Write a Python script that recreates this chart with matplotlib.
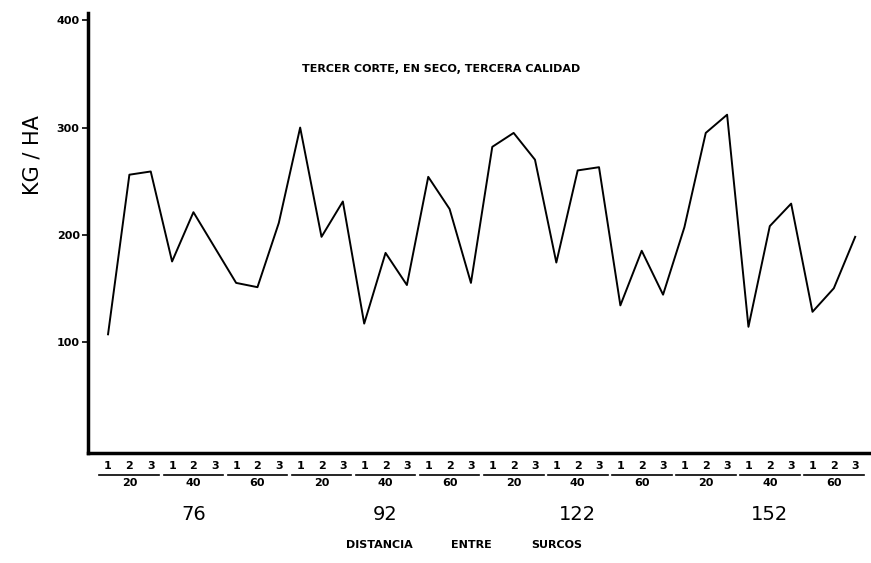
import matplotlib.pyplot as plt
from matplotlib.transforms import blended_transform_factory

# kg/ha for each row distance / density / repetition
distancias = ['76', '92', '122', '152']
densidades = ['20', '40', '60']
repeticiones = ['1', '2', '3']
kg_ha = [107, 256, 259, 175, 221, 188, 155, 151, 211,
         300, 198, 231, 117, 183, 153, 254, 224, 155,
         282, 295, 270, 174, 260, 263, 134, 185, 144,
         207, 295, 312, 114, 208, 229, 128, 150, 198]
y_ticks = [100, 200, 300, 400]

fig = plt.figure(figsize=(8.71, 5.63), dpi=100)
ax = fig.add_axes([0.101, 0.195, 0.898, 0.782])

x = list(range(len(kg_ha)))
ax.plot(x, kg_ha, color='black', lw=1.4)

ax.set_xlim(-0.94, 35.7)
ax.set_ylim(-4, 407)

for s in ['top', 'right']:
    ax.spines[s].set_visible(False)
ax.spines['left'].set_linewidth(2.5)
ax.spines['bottom'].set_linewidth(2.5)

ax.set_xticks([])
ax.set_yticks(y_ticks)
ax.set_yticklabels([str(v) for v in y_ticks], fontsize=8, fontweight='bold')
ax.tick_params(axis='y', length=4, width=1.2, direction='out', pad=2)

ax.text(15.6, 355, 'TERCER CORTE, EN SECO, TERCERA CALIDAD', fontsize=8,
        fontweight='bold', ha='center', va='center')

fig.text(32 / 871, 1 - 155 / 563, 'KG / HA', rotation=90, fontsize=15,
         ha='center', va='center')

tr = blended_transform_factory(ax.transData, fig.transFigure)
i = 0
for d in distancias:
    start = i
    for dens in densidades:
        for r in repeticiones:
            ax.text(i, 1 - 466 / 563, r, transform=tr, fontsize=8, fontweight='bold',
                    ha='center', va='center')
            i += 1
        ax.plot([i - 3 - 0.4, i - 1 + 0.4], [1 - 475 / 563] * 2, transform=tr,
                color='black', lw=1.2, clip_on=False)
        ax.text(i - 2, 1 - 483 / 563, dens, transform=tr, fontsize=8, fontweight='bold',
                ha='center', va='center')
    ax.text(start + 4, 1 - 515 / 563, d, transform=tr, fontsize=14,
            ha='center', va='center')

fig.text(379 / 871, 1 - 545 / 563, 'DISTANCIA', fontsize=8, fontweight='bold', ha='center', va='center')
fig.text(471 / 871, 1 - 545 / 563, 'ENTRE', fontsize=8, fontweight='bold', ha='center', va='center')
fig.text(557 / 871, 1 - 545 / 563, 'SURCOS', fontsize=8, fontweight='bold', ha='center', va='center')

fig.savefig('out.png', dpi=100)
